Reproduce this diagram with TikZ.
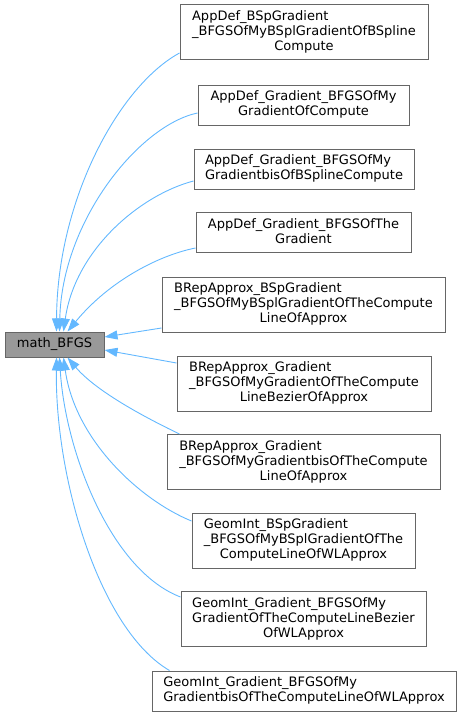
\documentclass[tikz,border=0pt]{standalone}
\usepackage{fontspec}
\setmainfont{DejaVu Sans}
\usetikzlibrary{arrows.meta,calc}
\definecolor{edgeblue}{HTML}{63B8FF}
\definecolor{boxborder}{HTML}{666666}
\definecolor{mainfill}{HTML}{999999}
\newcommand\dxlab[2]{\begin{tabular}{@{}l@{}}#1\\\multicolumn{1}{@{}c@{}}{#2}\end{tabular}}
\begin{document}
\begin{tikzpicture}[x=1pt,y=-1pt,
  every node/.style={font=\fontsize{13}{15}\selectfont},
  cls/.style={draw=boxborder,line width=1pt,fill=white,inner sep=0pt,minimum width=#1},
  h3/.style={minimum height=55pt},
  h2/.style={minimum height=40pt},
  mainbox/.style={draw=boxborder,line width=1pt,fill=mainfill,inner sep=0pt,minimum width=99pt,minimum height=25pt},
  edge/.style={draw=edgeblue,line width=0.9pt,-{Triangle[length=13pt,width=9pt]}}]
\useasboundingbox (0,0) rectangle (461,717);
\node[mainbox] (m) at (54.5,344.5) {math\_BFGS};
\node[cls=248pt,h3] (b1) at (304,32.5) {\dxlab{AppDef\_BSpGradient\\\_BFGSOfMyBSplGradientOfBSpline}{Compute}};
\node[cls=211pt,h2] (b2) at (303.5,105) {\dxlab{AppDef\_Gradient\_BFGSOfMy}{GradientOfCompute}};
\node[cls=220pt,h2] (b3) at (304,169) {\dxlab{AppDef\_Gradient\_BFGSOfMy}{GradientbisOfBSplineCompute}};
\node[cls=215pt,h2] (b4) at (303.5,232.5) {\dxlab{AppDef\_Gradient\_BFGSOfThe}{Gradient}};
\node[cls=283pt,h3] (b5) at (303.5,304.5) {\dxlab{BRepApprox\_BSpGradient\\\_BFGSOfMyBSplGradientOfTheCompute}{LineOfApprox}};
\node[cls=254pt,h3] (b6) at (304,383.5) {\dxlab{BRepApprox\_Gradient\\\_BFGSOfMyGradientOfTheCompute}{LineBezierOfApprox}};
\node[cls=273pt,h3] (b7) at (303.5,462) {\dxlab{BRepApprox\_Gradient\\\_BFGSOfMyGradientbisOfTheCompute}{LineOfApprox}};
\node[cls=223pt,h3] (b8) at (303.5,540.5) {\dxlab{GeomInt\_BSpGradient\\\_BFGSOfMyBSplGradientOfThe}{ComputeLineOfWLApprox}};
\node[cls=245pt,h3] (b9) at (303.5,619) {\dxlab{GeomInt\_Gradient\_BFGSOfMy\\GradientOfTheComputeLineBezier}{OfWLApprox}};
\node[cls=304pt,h2] (b10) at (304,691) {\dxlab{GeomInt\_Gradient\_BFGSOfMy}{GradientbisOfTheComputeLineOfWLApprox}};
\draw[edge] ($(b1.west)+(0,20.5)$) .. controls (119,86) and (57,200) .. ($(m.north west)+(52,0)$);
\draw[edge] ($(b2.west)+(0,8)$) .. controls (140,125) and (62,220) .. ($(m.north west)+(55,0)$);
\draw[edge] ($(b3.west)+(0,12)$) .. controls (140,195) and (75,250) .. ($(m.north west)+(59,0)$);
\draw[edge] ($(b4.west)+(0,15.5)$) .. controls (160,255) and (110,280) .. ($(m.north west)+(63,0)$);
\draw[edge] ($(b5.west)+(0,23.5)$) -- ($(m.east)+(0,-7.5)$);
\draw[edge] ($(b6.west)+(0,-20.5)$) -- ($(m.east)+(0,5.5)$);
\draw[edge] ($(b7.north west)+(13,0)$) .. controls (140,415) and (95,390) .. ($(m.south west)+(63,0)$);
\draw[edge] ($(b8.west)+(0,-19.5)$) .. controls (140,500) and (75,440) .. ($(m.south west)+(59,0)$);
\draw[edge] ($(b9.west)+(0,-22)$) .. controls (110,570) and (65,450) .. ($(m.south west)+(55,0)$);
\draw[edge] ($(b10.north west)+(18,0)$) .. controls (100,630) and (55,480) .. ($(m.south west)+(52,0)$);
\end{tikzpicture}
\end{document}
